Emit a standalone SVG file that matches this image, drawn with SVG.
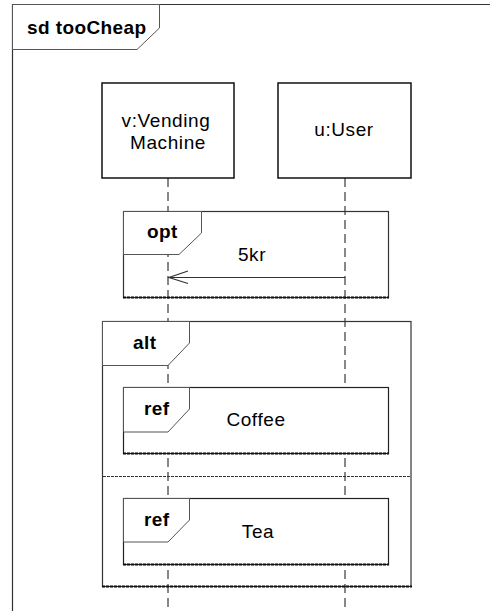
<svg xmlns="http://www.w3.org/2000/svg" width="490" height="611" viewBox="0 0 490 611">
<style>
.frame{fill:none;stroke:#333;stroke-width:1.2}
.tab{fill:#fff;stroke:#555;stroke-width:1}
.box{fill:#fff;stroke:#111;stroke-width:1.5}
.ref{fill:#fff;stroke:#222;stroke-width:1.2}
.bot{stroke:#111;stroke-width:2;stroke-dasharray:3 1}
.life{stroke:#111;stroke-width:1;stroke-dasharray:9 5;fill:none}
.sep{stroke:#333;stroke-width:1;stroke-dasharray:3 1}
.t{font-family:"Liberation Sans",Arial,sans-serif;font-size:19px;letter-spacing:0.6px;fill:#000}
.b{font-weight:bold;letter-spacing:0.4px}
</style>
<rect width="490" height="611" fill="#fff"/>
<g id="frame-sd">
<path class="frame" d="M12.5,620 V4.5 H495"/>
<path class="tab" d="M12.5,4.5 H159.5 V28 L137,49.5 H12.5 Z"/>
<text class="t b" x="27" y="34">sd tooCheap</text>
</g>
<g id="connectors">
<line class="life" x1="168" y1="178" x2="168" y2="611"/>
<line class="life" x1="345" y1="178" x2="345" y2="611"/>
</g>
<g id="lifeline-vm">
<rect class="box" x="102" y="83" width="132" height="95"/>
<text class="t" x="166" y="127" text-anchor="middle">v:Vending</text>
<text class="t" x="168" y="149" text-anchor="middle">Machine</text>
</g>
<g id="lifeline-user">
<rect class="box" x="278" y="83" width="133" height="95"/>
<text class="t" x="344" y="136" text-anchor="middle">u:User</text>
</g>
<g id="fragment-opt">
<rect class="frame" x="123.5" y="211.5" width="265" height="86"/>
<line class="bot" x1="123" y1="297.5" x2="389" y2="297.5"/>
<path class="tab" d="M123.5,211.5 H201.5 V233 L179,254.5 H123.5 Z"/>
<text class="t b" x="147" y="238">opt</text>
</g>
<g id="message-5kr">
<line x1="345" y1="277.5" x2="169" y2="277.5" stroke="#333" stroke-width="1.2"/>
<path d="M188,271 L169,277.5 L188,283.5" fill="none" stroke="#333" stroke-width="1.2"/>
<text class="t" x="252" y="261" text-anchor="middle">5kr</text>
</g>
<g id="fragment-alt">
<rect class="frame" x="102.5" y="321.5" width="308.5" height="265"/>
<line class="bot" x1="102" y1="586.5" x2="412" y2="586.5"/>
<line class="sep" x1="103" y1="476.5" x2="411" y2="476.5"/>
<path class="tab" d="M102.5,321.5 H189.5 V343 L168,365.5 H102.5 Z"/>
<text class="t b" x="133" y="349">alt</text>
</g>
<g id="ref-coffee">
<rect class="ref" x="123.5" y="387.5" width="265" height="66"/>
<line class="bot" x1="123" y1="453.5" x2="389" y2="453.5"/>
<path class="tab" d="M123.5,387.5 H189.5 V409 L168,432 H123.5 Z"/>
<text class="t b" x="144" y="415">ref</text>
<text class="t" x="256" y="426" text-anchor="middle">Coffee</text>
</g>
<g id="ref-tea">
<rect class="ref" x="123.5" y="498.5" width="265" height="66"/>
<line class="bot" x1="123" y1="564.5" x2="389" y2="564.5"/>
<path class="tab" d="M123.5,498.5 H189.5 V520 L168,542 H123.5 Z"/>
<text class="t b" x="144" y="526">ref</text>
<text class="t" x="258" y="538" text-anchor="middle">Tea</text>
</g>
</svg>
